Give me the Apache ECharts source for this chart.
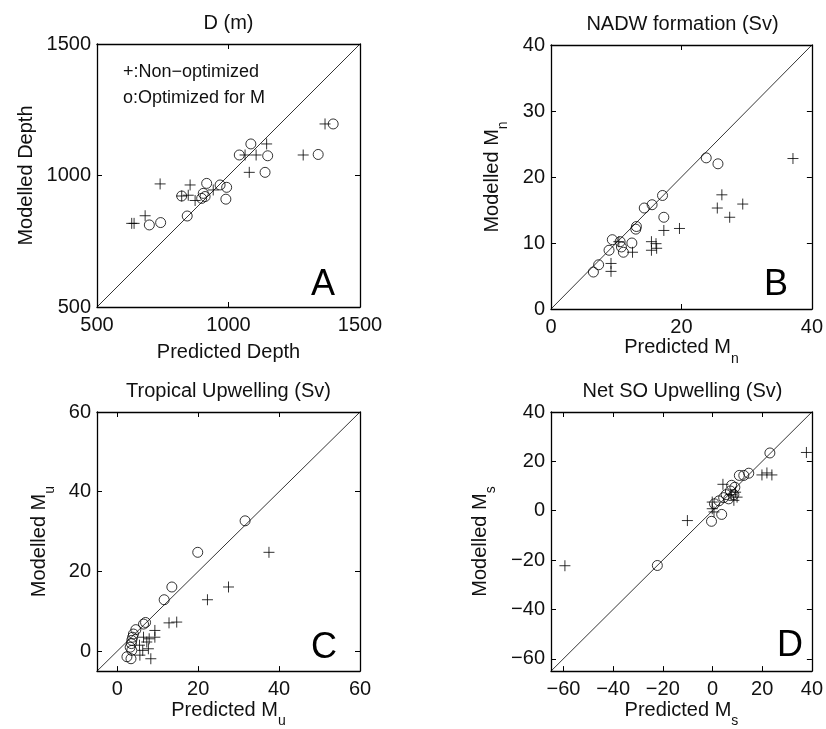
<!DOCTYPE html>
<html>
<head>
<meta charset="utf-8">
<script src="https://cdn.jsdelivr.net/npm/echarts@6/dist/echarts.min.js"></script>
<style>html,body{margin:0;padding:0;background:#fff}#c{width:826px;height:729px}</style>
</head>
<body>
<div id="c"></div>
<script>
// ---------- DATA ----------
// Panel A: D (m)
const depthNonOpt = [[632,818],[641,818],[683,847],[740,968],[822,922],[847,925],[854,964],[873,905],[942,945],[1063,1078],[1105,1078],[1079,1012],[1145,1120],[1284,1078],[1367,1196]];
const depthOpt = [[699,812],[742,821],[822,922],[843,846],[898,913],[904,932],[911,920],[917,970],[968,964],[993,955],[990,910],[1041,1078],[1085,1120],[1149,1075],[1139,1012],[1341,1080],[1398,1196]];
// Panel B: NADW formation (Sv)
const nadwNonOpt = [[9.2,6.9],[9.2,5.7],[10.4,10.2],[12.5,8.6],[15.4,10.2],[16.1,9.9],[15.4,8.9],[16.2,9.2],[17.3,11.9],[19.7,12.2],[25.5,15.3],[26.2,17.3],[27.4,13.9],[29.4,15.9],[37.1,22.8]];
const nadwOpt = [[6.5,5.6],[7.3,6.7],[8.9,8.9],[9.4,10.5],[10.6,10.2],[10.8,9.4],[11.1,8.6],[12.4,10.0],[13.0,12.1],[13.1,12.5],[14.3,15.3],[15.5,15.8],[17.1,17.2],[17.3,13.9],[23.8,22.9],[25.6,22.0]];
// Panel C: Tropical Upwelling (Sv)
const tropNonOpt = [[37.5,24.8],[27.5,16.1],[22.3,12.9],[14.7,7.3],[12.8,7.1],[9.3,5.2],[9.3,3.5],[7.9,3.1],[7.3,2.3],[7.7,0.6],[6.3,0.2],[5.6,-1.0],[8.3,-1.9],[5.5,1.5],[6.5,3.5]];
const tropOpt = [[31.6,32.7],[19.9,24.8],[13.5,16.1],[11.6,12.9],[7.0,7.2],[6.5,6.8],[4.6,5.4],[4.0,4.3],[3.8,3.5],[3.6,2.7],[3.5,1.9],[3.2,1.0],[3.6,0.2],[2.4,-1.4],[3.4,-1.9]];
// Panel D: Net SO Upwelling (Sv)
const soNonOpt = [[-59.4,-22.3],[-10.1,-4.0],[-0.1,3.5],[-0.1,0.8],[0.6,-0.5],[4.2,10.7],[9.3,7.5],[9.9,5.5],[8.6,4.2],[7.5,6.5],[19.9,14.5],[21.9,15.3],[23.9,14.5],[37.8,23.6]];
const soOpt = [[-22.2,-22.2],[-0.4,-4.3],[3.7,-1.5],[0.8,2.8],[2.6,4.0],[4.5,5.3],[5.5,6.5],[6.5,4.8],[7.2,8.0],[7.7,10.3],[8.6,6.5],[9.0,9.5],[10.8,14.3],[12.6,14.3],[14.6,15.2],[23.1,23.4]];

// axis ranges and tick labels
const rangeA = [500, 1500], ticksAx = [500, 1000, 1500], ticksAy = [500, 1000, 1500];
const rangeB = [0, 40],     ticksBx = [0, 20, 40],       ticksBy = [0, 10, 20, 30, 40];
const rangeC = [-5, 60],    ticksCx = [0, 20, 40, 60],   ticksCy = [0, 20, 40, 60];
const rangeD = [-65, 40],   ticksDx = [-60, -40, -20, 0, 20, 40], ticksDy = [-60, -40, -20, 0, 20, 40];

const titles = ['D (m)', 'NADW formation (Sv)', 'Tropical Upwelling (Sv)', 'Net SO Upwelling (Sv)'];
const xNames = ['Predicted Depth', 'Predicted M{sub|n}', 'Predicted M{sub|u}', 'Predicted M{sub|s}'];
const yNames = ['Modelled Depth', 'Modelled M{sub|n}', 'Modelled M{sub|u}', 'Modelled M{sub|s}'];
const letters = ['A', 'B', 'C', 'D'];
const legendLines = ['+:Non\u2212optimized', 'o:Optimized for M'];

// ---------- LAYOUT ----------
const FONT = '"Liberation Sans", Arial, Helvetica, sans-serif';
const TXT = '#111';
const grids = [
  {left: 97, top: 44, width: 263, height: 263},
  {left: 551, top: 45, width: 263, height: 264},
  {left: 97, top: 412, width: 263, height: 262},
  {left: 551, top: 412, width: 263, height: 262}
];
const ranges = [rangeA, rangeB, rangeC, rangeD];
const xTicks = [ticksAx, ticksBx, ticksCx, ticksDx];
const yTicks = [ticksAy, ticksBy, ticksCy, ticksDy];
const xGaps = [35, 18, 18, 18];
const yGaps = [61, 41, 40, 53];
const nonOpt = [depthNonOpt, nadwNonOpt, tropNonOpt, soNonOpt];
const opt = [depthOpt, nadwOpt, tropOpt, soOpt];

const fmt = v => String(v).replace('-', '\u2212');
const nameStyle = {
  fontSize: 20, fontFamily: FONT, color: TXT,
  rich: { sub: { fontSize: 14, fontFamily: FONT, color: TXT, padding: [22, 0, 0, 0] } }
};

function axis(gi, pos, r, ticks, label, name, gap) {
  return {
    type: 'value', gridIndex: gi, position: pos, min: r[0], max: r[1],
    axisLine: {show: true, onZero: false, lineStyle: {color: '#000', width: 1.3}},
    axisTick: {show: true, inside: true, length: 5, customValues: ticks, lineStyle: {color: '#000', width: 1}},
    axisLabel: {show: label, customValues: ticks, margin: pos === 'bottom' ? 8 : 6,
      fontSize: 20, fontFamily: FONT, color: TXT, formatter: fmt},
    splitLine: {show: false},
    name: name || '', nameLocation: 'middle', nameGap: gap || 0, nameTextStyle: nameStyle
  };
}

const xAxis = [], yAxis = [], series = [], graphic = [];
for (let i = 0; i < 4; i++) {
  const r = ranges[i];
  xAxis.push(axis(i, 'bottom', r, xTicks[i], true, xNames[i], xGaps[i]));
  xAxis.push(axis(i, 'top', r, xTicks[i], false));
  yAxis.push(axis(i, 'left', r, yTicks[i], true, yNames[i], yGaps[i]));
  yAxis.push(axis(i, 'right', r, yTicks[i], false));
  series.push({
    type: 'line', xAxisIndex: 2 * i, yAxisIndex: 2 * i, data: [[r[0], r[0]], [r[1], r[1]]],
    symbol: 'none', silent: true, z: 1, lineStyle: {color: '#000', width: 0.8}
  });
  series.push({
    type: 'scatter', xAxisIndex: 2 * i, yAxisIndex: 2 * i, data: nonOpt[i],
    symbol: 'path://M0,5H10M5,0V10', symbolSize: 11, z: 3,
    itemStyle: {color: 'transparent', borderColor: '#000', borderWidth: 1}
  });
  series.push({
    type: 'scatter', xAxisIndex: 2 * i, yAxisIndex: 2 * i, data: opt[i],
    symbol: 'circle', symbolSize: 10, z: 3,
    itemStyle: {color: 'transparent', borderColor: '#000', borderWidth: 1}
  });
  const g = grids[i];
  graphic.push({type: 'text', x: g.left + g.width / 2, y: g.top - 31,
    style: {text: titles[i], font: '20px ' + FONT, fill: TXT, align: 'center', verticalAlign: 'top'}});
}
// panel letters
const letterPos = [[335, 267], [788, 267], [337, 630], [803, 628]];
letters.forEach((t, i) => graphic.push({type: 'text', x: letterPos[i][0], y: letterPos[i][1],
  style: {text: t, font: '36px ' + FONT, fill: '#000', align: 'right', verticalAlign: 'top'}}));
// legend annotation in panel A
legendLines.forEach((t, i) => graphic.push({type: 'text', x: 123, y: 63 + i * 26.5,
  style: {text: t, font: '18px ' + FONT, fill: TXT, align: 'left', verticalAlign: 'top'}}));

const chart = echarts.init(document.getElementById('c'), null, {renderer: 'canvas'});
chart.setOption({
  animation: false,
  grid: grids,
  xAxis, yAxis, series, graphic
});
</script>
</body>
</html>
